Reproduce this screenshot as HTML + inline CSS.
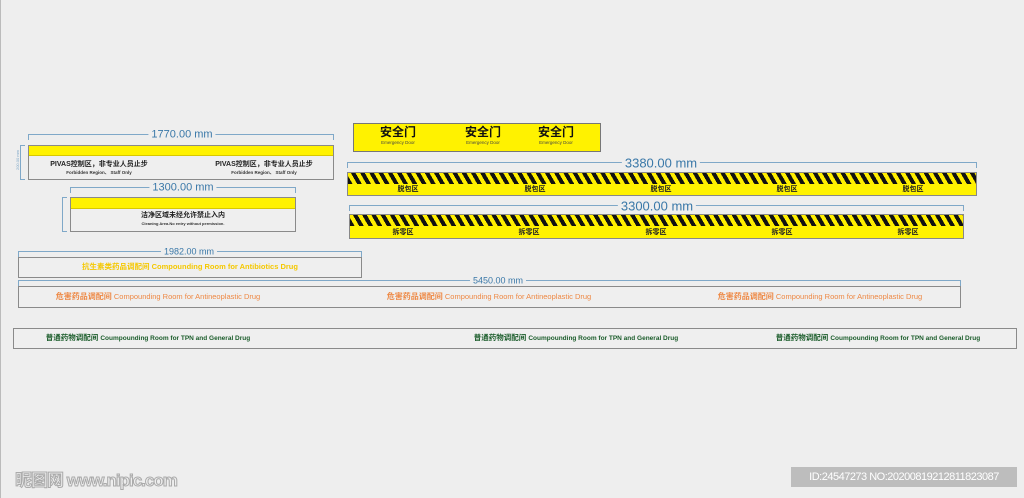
<!DOCTYPE html>
<html><head><meta charset="utf-8"><style>
*{margin:0;padding:0;box-sizing:border-box}
body{width:1024px;height:498px;background:#eeeeee;position:relative;overflow:hidden;font-family:"Liberation Sans","Noto Sans CJK SC",sans-serif;border-left:1px solid #bbb}
.a{position:absolute}
.box{position:absolute;border:1px solid #8a8a8a;background:#efefef}
.dim{position:absolute;height:6px;border:1px solid #7fa8c8;border-bottom:none}
.dt{position:absolute;color:#3a78a8;background:#eeeeee;padding:0 3px;line-height:1;transform:translate(-50%,-50%)}
.vd{position:absolute;width:5px;border:1px solid #7fa8c8;border-right:none}
.stripe{background:repeating-linear-gradient(60deg,#111 0 4px,#ffee00 4px 8px)}
.c{position:absolute;text-align:center;transform:translateX(-50%);white-space:nowrap;line-height:1.1}
</style></head><body>

<div class="dim" style="left:27px;top:134px;width:306px"></div>
<div class="dt" style="left:181px;top:135px;font-size:11px">1770.00 mm</div>
<div class="vd" style="left:19px;top:145px;height:35px"></div>
<div class="a" style="left:14px;top:150px;font-size:4px;color:#7fa8c8;writing-mode:vertical-rl;transform:rotate(180deg)">200.00 mm</div>
<div class="box" style="left:27px;top:145px;width:306px;height:35px">
  <div style="height:10px;background:#fff200;border-bottom:1px solid #d8c800"></div>
</div>
<div class="c" style="left:98px;top:161px;font-size:7px;font-weight:bold;color:#222">PIVAS控制区，非专业人员止步</div>
<div class="c" style="left:98px;top:171px;font-size:4.5px;font-weight:bold;color:#333">Forbidden Region、 Staff Only</div>
<div class="c" style="left:263px;top:161px;font-size:7px;font-weight:bold;color:#222">PIVAS控制区，非专业人员止步</div>
<div class="c" style="left:263px;top:171px;font-size:4.5px;font-weight:bold;color:#333">Forbidden Region、 Staff Only</div>

<div class="dim" style="left:69px;top:187px;width:226px"></div>
<div class="dt" style="left:182px;top:188px;font-size:11px">1300.00 mm</div>
<div class="vd" style="left:61px;top:197px;height:35px"></div>
<div class="box" style="left:69px;top:197px;width:226px;height:35px">
  <div style="height:11px;background:#fff200;border-bottom:1px solid #d8c800"></div>
</div>
<div class="c" style="left:182px;top:212px;font-size:7px;font-weight:bold;color:#222">洁净区域未经允许禁止入内</div>
<div class="c" style="left:182px;top:222px;font-size:4px;font-weight:bold;color:#333">Cleaning Area.No entry without permission.</div>

<div class="a" style="left:352px;top:123px;width:248px;height:29px;background:#fff200;border:1px solid #777"></div>
<div class="c" style="left:397px;top:126px;font-size:12px;font-weight:bold;color:#111">安全门</div>
<div class="c" style="left:397px;top:141px;font-size:4.5px;color:#444">Emergency Door</div>
<div class="c" style="left:482px;top:126px;font-size:12px;font-weight:bold;color:#111">安全门</div>
<div class="c" style="left:482px;top:141px;font-size:4.5px;color:#444">Emergency Door</div>
<div class="c" style="left:555px;top:126px;font-size:12px;font-weight:bold;color:#111">安全门</div>
<div class="c" style="left:555px;top:141px;font-size:4.5px;color:#444">Emergency Door</div>

<div class="dim" style="left:346px;top:162px;width:630px"></div>
<div class="dt" style="left:660px;top:163px;font-size:13px">3380.00 mm</div>
<div class="a" style="left:346px;top:172px;width:630px;height:24px;background:#fff200;border:1px solid #888"><div class="stripe" style="height:11px"></div></div>
<div class="c" style="left:407px;top:186px;font-size:7px;font-weight:bold;color:#222">脱包区</div>
<div class="c" style="left:534px;top:186px;font-size:7px;font-weight:bold;color:#222">脱包区</div>
<div class="c" style="left:660px;top:186px;font-size:7px;font-weight:bold;color:#222">脱包区</div>
<div class="c" style="left:786px;top:186px;font-size:7px;font-weight:bold;color:#222">脱包区</div>
<div class="c" style="left:912px;top:186px;font-size:7px;font-weight:bold;color:#222">脱包区</div>

<div class="dim" style="left:348px;top:205px;width:615px"></div>
<div class="dt" style="left:656px;top:206px;font-size:13px">3300.00 mm</div>
<div class="a" style="left:348px;top:214px;width:615px;height:25px;background:#fff200;border:1px solid #888"><div class="stripe" style="height:11px"></div></div>
<div class="c" style="left:402px;top:229px;font-size:7px;font-weight:bold;color:#222">拆零区</div>
<div class="c" style="left:528px;top:229px;font-size:7px;font-weight:bold;color:#222">拆零区</div>
<div class="c" style="left:655px;top:229px;font-size:7px;font-weight:bold;color:#222">拆零区</div>
<div class="c" style="left:781px;top:229px;font-size:7px;font-weight:bold;color:#222">拆零区</div>
<div class="c" style="left:907px;top:229px;font-size:7px;font-weight:bold;color:#222">拆零区</div>

<div class="dim" style="left:17px;top:251px;width:344px"></div>
<div class="dt" style="left:188px;top:252px;font-size:9px">1982.00 mm</div>
<div class="box" style="left:17px;top:257px;width:344px;height:21px"></div>
<div class="c" style="left:189px;top:263px;font-size:7.5px;font-weight:bold;color:#f5c800">抗生素类药品调配间 Compounding Room for Antibiotics Drug</div>

<div class="dim" style="left:17px;top:280px;width:943px"></div>
<div class="dt" style="left:497px;top:281px;font-size:9px">5450.00 mm</div>
<div class="box" style="left:17px;top:286px;width:943px;height:22px"></div>
<div class="c" style="left:157px;top:293px;font-size:7.5px;color:#ee8844"><b style="font-size:8px">危害药品调配间</b> Compounding Room for Antineoplastic Drug</div>
<div class="c" style="left:488px;top:293px;font-size:7.5px;color:#ee8844"><b style="font-size:8px">危害药品调配间</b> Compounding Room for Antineoplastic Drug</div>
<div class="c" style="left:819px;top:293px;font-size:7.5px;color:#ee8844"><b style="font-size:8px">危害药品调配间</b> Compounding Room for Antineoplastic Drug</div>

<div class="box" style="left:12px;top:328px;width:1004px;height:21px"></div>
<div class="c" style="left:147px;top:334px;font-size:7.5px;font-weight:bold;color:#1a5c2a">普通药物调配间 <span style="font-size:6.5px">Coumpounding Room for TPN and General Drug</span></div>
<div class="c" style="left:575px;top:334px;font-size:7.5px;font-weight:bold;color:#1a5c2a">普通药物调配间 <span style="font-size:6.5px">Coumpounding Room for TPN and General Drug</span></div>
<div class="c" style="left:877px;top:334px;font-size:7.5px;font-weight:bold;color:#1a5c2a">普通药物调配间 <span style="font-size:6.5px">Coumpounding Room for TPN and General Drug</span></div>

<div class="a" style="left:14px;top:466px;font-size:17px;font-weight:bold;color:#eee;-webkit-text-stroke:1px #aaa;letter-spacing:-1px">昵图网 www.nipic.com</div>
<div class="a" style="left:790px;top:467px;width:226px;height:20px;background:#bdbdbd;color:#fff;font-size:11px;line-height:20px;text-align:center;letter-spacing:-0.5px">ID:24547273 NO:20200819212811823087</div>
</body></html>
